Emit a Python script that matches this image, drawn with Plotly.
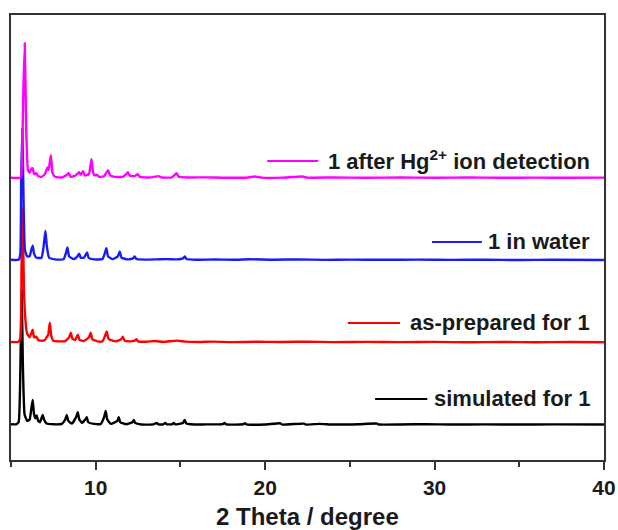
import plotly.graph_objects as go

# PXRD patterns (2-theta in degrees, intensity normalised to strongest peak = 100)
sim_2theta = [5.0, 5.3, 5.45, 5.55, 5.63, 5.7, 5.8, 5.95, 6.1, 6.2, 6.28, 6.36, 6.45, 6.52, 6.6, 6.7,
              6.8, 6.87, 6.95, 7.1, 7.5, 8.0, 8.2, 8.29, 8.38, 8.6, 8.85, 8.94, 9.03, 9.2, 9.38, 9.47,
              9.56, 9.9, 10.3, 10.5, 10.59, 10.68, 10.9, 11.28, 11.36, 11.45, 11.8, 12.17, 12.25, 12.33,
              12.7, 13.4, 13.6, 13.7, 14.0, 14.1, 14.2, 14.5, 14.6, 14.7, 15.15, 15.25, 15.35, 15.8,
              16.5, 17.5, 17.6, 17.7, 18.7, 18.8, 18.9, 20.0, 20.9, 21.0, 22.3, 22.4, 23.2, 24.0, 25.5,
              26.6, 26.7, 28.0, 29.5, 31.0, 33.0, 35.0, 37.0, 40.0]
sim_int = [0.5, 0.5, 2, 40, 100, 45, 8, 3, 4, 12, 18.5, 8, 5, 7, 3, 2,
           5, 7.4, 4, 1, 0.5, 0.8, 4, 7.4, 3, 1, 6, 9.4, 4, 1.5, 4, 5.7,
           2, 0.8, 0.8, 6, 10.4, 4, 0.8, 3, 5.7, 2, 0.5, 2, 3.7, 1.5,
           0.3, 0.4, 1.5, 0.4, 0.5, 1.5, 0.5, 0.5, 1.5, 0.4, 1.5, 3.7, 1, 0.3,
           0.4, 0.6, 1.5, 0.4, 0.5, 1.2, 0.4, 0.3, 1.2, 0.3, 1.0, 0.3, 0.8, 0.3, 0.5,
           1.0, 0.3, 0.3, 0.6, 0.3, 0.4, 0.3, 0.4, 0.3]

prep_2theta = [5.0, 5.4, 5.55, 5.62, 5.69, 5.76, 5.87, 5.95, 6.1, 6.2, 6.28, 6.36, 6.5, 6.6, 6.75,
               7.0, 7.12, 7.2, 7.29, 7.38, 7.5, 7.9, 8.2, 8.43, 8.53, 8.62, 8.8, 8.94, 9.05, 9.3, 9.6,
               9.71, 9.8, 10.1, 10.4, 10.55, 10.65, 10.75, 11.0, 11.2, 11.5, 11.6, 11.7, 12.0, 12.3,
               12.4, 12.5, 13.0, 13.5, 14.0, 14.8, 15.3, 16.0, 17.0, 18.0, 19.5, 21.0, 22.5, 24.0,
               26.0, 28.0, 30.0, 32.0, 34.0, 36.0, 38.0, 40.0]
prep_int = [0.5, 0.5, 3, 55, 100, 40, 14, 7, 4, 7, 9.6, 4, 4.4, 2, 1.5,
            2, 4.4, 6, 14.8, 5, 1.5, 1, 1.2, 4, 7.4, 3, 2, 6, 2, 1.2, 4,
            7.4, 2.5, 1, 1, 5, 8.3, 3, 1.5, 1, 2.5, 4.4, 1.5, 1, 1.5,
            2.5, 1, 0.7, 1.2, 0.6, 1.5, 0.8, 0.5, 0.8, 0.4, 0.7, 0.5, 0.8, 0.4,
            0.6, 0.4, 0.6, 0.3, 0.5, 0.3, 0.5, 0.3]

water_2theta = [5.0, 5.45, 5.55, 5.6, 5.67, 5.74, 5.82, 5.95, 6.1, 6.2, 6.28, 6.36, 6.5, 6.8, 6.92,
                7.03, 7.12, 7.25, 7.6, 8.1, 8.23, 8.33, 8.43, 8.7, 8.92, 9.02, 9.12, 9.3, 9.4, 9.49,
                9.58, 9.9, 10.4, 10.53, 10.63, 10.73, 11.0, 11.3, 11.42, 11.52, 11.9, 12.2, 12.3, 12.4,
                12.9, 13.6, 14.2, 14.8, 15.15, 15.26, 15.36, 16.0, 17.0, 18.3, 19.0, 20.5, 22.0, 23.5,
                25.0, 27.0, 29.0, 31.0, 33.0, 35.0, 37.0, 40.0]
water_int = [0.5, 0.5, 5, 60, 98, 45, 8, 3, 3, 8, 11, 5, 2, 2, 10,
             22, 10, 2, 0.8, 0.8, 5, 9.6, 3, 1, 3, 5, 2, 2, 4, 6,
             2, 0.8, 1, 5, 9, 3, 1, 3, 6.7, 2, 0.8, 1.5, 3, 1,
             0.6, 0.8, 1, 0.8, 1.5, 3, 1, 0.5, 0.7, 0.5, 0.9, 0.5, 0.8, 0.4,
             0.6, 0.5, 0.6, 0.4, 0.5, 0.3, 0.5, 0.3]

hg_2theta = [5.0, 5.55, 5.62, 5.72, 5.81, 5.9, 6.0, 6.1, 6.2, 6.28, 6.36, 6.5, 6.6, 6.8, 7.0,
             7.15, 7.22, 7.35, 7.45, 7.6, 8.0, 8.3, 8.41, 8.52, 8.8, 9.02, 9.12, 9.25, 9.35, 9.6,
             9.75, 9.85, 9.95, 10.06, 10.2, 10.5, 10.73, 10.85, 11.1, 11.6, 11.8, 11.9, 12.0, 12.3,
             12.47, 12.6, 13.2, 13.7, 13.9, 14.5, 14.78, 14.9, 15.5, 16.5, 17.5, 19.0, 19.4, 19.8,
             21.0, 22.2, 22.5, 24.0, 26.0, 28.0, 30.0, 32.0, 34.0, 36.0, 38.0, 40.0]
hg_int = [0.3, 0.3, 3, 60, 100, 35, 6, 4, 7, 7.4, 3, 3.7, 1.5, 1, 3,
          8, 6, 17, 4, 1, 0.5, 2.5, 3.7, 1, 2, 4.4, 2.5, 5.2, 2, 3,
          14, 4, 2, 2.5, 1, 1.5, 6, 2, 1, 1, 3, 4.4, 2, 1.5,
          3, 1, 0.5, 1.5, 0.5, 0.6, 3.7, 1, 0.5, 0.6, 0.3, 0.5, 1.2, 0.4,
          0.4, 1.2, 0.4, 0.5, 0.3, 0.5, 0.3, 0.5, 0.3, 0.4, 0.3, 0.4]

series_names = ["simulated for 1", "as-prepared for 1", "1 in water",
                "1 after Hg<sup>2+</sup> ion detection"]
series_x = [sim_2theta, prep_2theta, water_2theta, hg_2theta]
series_y = [sim_int, prep_int, water_int, hg_int]
series_colors = ["#000000", "#ff0000", "#1a1aff", "#ff00ff"]
stack_offsets = [0, 61, 122, 183]

# legend keys: (line start, line end, vertical position) in paper coordinates
legend_keys = [(0.614, 0.702, 0.137), (0.568, 0.656, 0.308),
               (0.710, 0.794, 0.490), (0.432, 0.518, 0.672)]

FONT = "Liberation Sans, Arial, sans-serif"
TEXT = "#1a1a1a"

fig = go.Figure()
for xs, ys, col, off in zip(series_x, series_y, series_colors, stack_offsets):
    fig.add_trace(go.Scatter(
        x=xs, y=[v + off for v in ys], mode="lines",
        line=dict(color=col, width=2.4, shape="spline", smoothing=0.4),
        showlegend=False, hoverinfo="skip"))

for name, col, (x0, x1, yk) in zip(series_names, series_colors, legend_keys):
    fig.add_shape(type="line", xref="paper", yref="paper", x0=x0, x1=x1, y0=yk, y1=yk,
                  line=dict(color=col, width=2))
    fig.add_annotation(text=name, xref="paper", yref="paper", x=0.980, y=yk + 0.002,
                       xanchor="right", yanchor="middle", showarrow=False,
                       font=dict(family=FONT, size=22, color=TEXT, weight="bold"))

fig.add_annotation(text="2 Theta / degree", xref="paper", yref="paper", x=0.5, y=-0.127,
                   xanchor="center", yanchor="middle", showarrow=False,
                   font=dict(family=FONT, size=24, color=TEXT, weight="bold"))

fig.update_layout(
    width=618, height=530,
    margin=dict(l=11, r=14, t=15, b=70, autoexpand=False),
    paper_bgcolor="white", plot_bgcolor="white",
    font=dict(family=FONT, color=TEXT),
    xaxis=dict(range=[5, 40], tick0=0, dtick=10, ticks="outside", ticklen=8, tickwidth=2,
               tickcolor="#333333", showline=True, linecolor="#333333", linewidth=2,
               mirror=True, showgrid=False, zeroline=False, automargin=False,
               tickfont=dict(family=FONT, size=21, color=TEXT, weight="bold"),
               minor=dict(dtick=5, tick0=0, ticks="outside", ticklen=5, tickwidth=2,
                          tickcolor="#333333", showgrid=False)),
    yaxis=dict(range=[-26, 304], showticklabels=False, ticks="", showline=True,
               linecolor="#333333", linewidth=2, mirror=True, showgrid=False,
               zeroline=False, automargin=False),
)

fig.write_html("out.html")
